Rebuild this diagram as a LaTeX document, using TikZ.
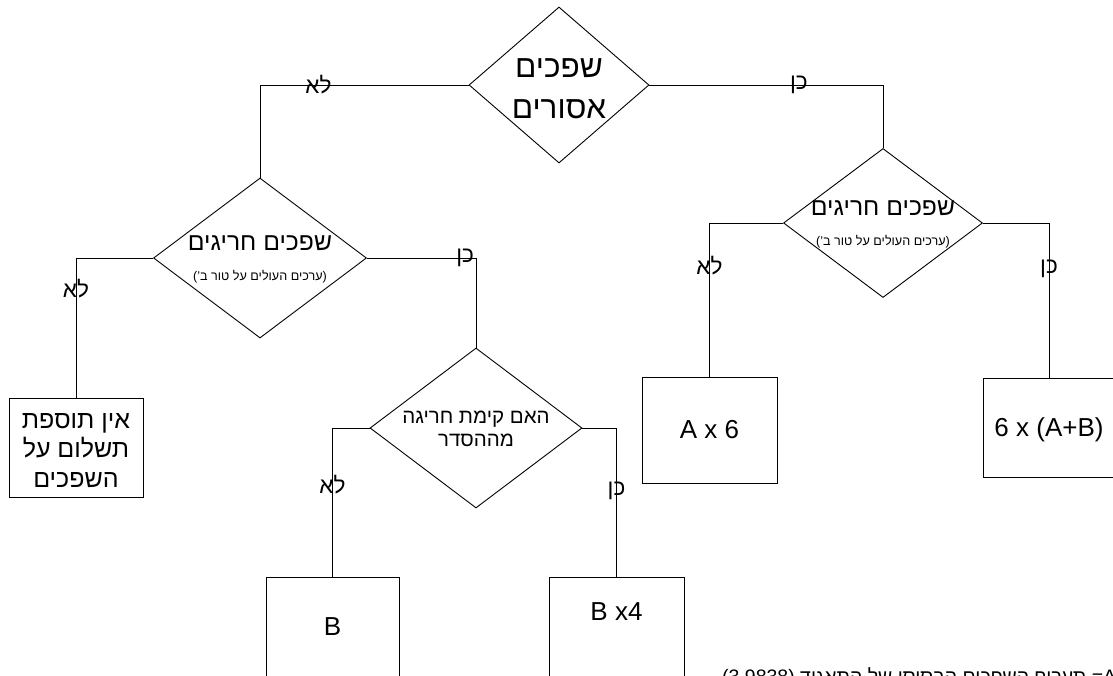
\documentclass[tikz,border=0pt]{standalone}
\usepackage{fontspec}
\setmainfont{Liberation Sans}[Script=Hebrew]
\usetikzlibrary{shapes.geometric}
\TeXXeTstate=1
\newcommand{\rtl}[1]{\beginR #1\endR}

\tikzset{
  decision/.style={diamond, draw, line width=0.9pt, inner sep=0pt},
  result/.style={rectangle, draw, line width=0.9pt, inner sep=0pt,
    font=\fontsize{26}{30}\selectfont},
  link/.style={draw, line width=0.9pt},
  answer/.style={font=\fontsize{22.5}{24}\selectfont, inner sep=0pt},
  title/.style={font=\fontsize{24.7}{28}\selectfont, inner sep=0pt},
  subtitle/.style={font=\fontsize{12.6}{15}\selectfont, inner sep=0pt},
}

\begin{document}
\begin{tikzpicture}[x=1pt,y=-1pt]
  \useasboundingbox (0,0) rectangle (1113,675);

  % decisions
  \node[decision, minimum width=180pt, minimum height=156pt] (forbid) at (559,85) {};
  \node[decision, minimum width=213pt, minimum height=160pt] (exL) at (260,258) {};
  \node[decision, minimum width=199pt, minimum height=149pt] (exR) at (883,223) {};
  \node[decision, minimum width=212pt, minimum height=160pt] (order) at (476,428) {};

  \node[font=\fontsize{31.5}{41}\selectfont, align=center, inner sep=0pt] (forbidtxt)
    at ([yshift=-4pt]forbid.center) {\rtl{שפכים}\\\rtl{אסורים}};
  \node[title] (exLtxt) at ([yshift=15pt]exL.center) {\rtl{שפכים חריגים}};
  \node[subtitle] (exLsub) at ([yshift=-19pt]exL.center) {\rtl{(ערכים העולים על טור ב')}};
  \node[title] (exRtxt) at ([yshift=15pt]exR.center) {\rtl{שפכים חריגים}};
  \node[subtitle] (exRsub) at ([yshift=-19pt]exR.center) {\rtl{(ערכים העולים על טור ב')}};
  \node[font=\fontsize{20.5}{23}\selectfont, align=center, inner sep=0pt] (ordertxt)
    at ([yshift=-1pt]order.center) {\rtl{האם קימת חריגה}\\\rtl{מההסדר}};

  % results
  \node[result, minimum width=134pt, minimum height=99pt] (noadd) at (76,447.5) {};
  \node[align=center, font=\fontsize{25}{29.5}\selectfont, inner sep=0pt] (noaddtxt)
    at ([yshift=-3pt]noadd.center) {\rtl{אין תוספת}\\\rtl{תשלום על}\\\rtl{השפכים}};
  \node[result, minimum width=135pt, minimum height=106pt] (ax6) at (709.5,430) {A x 6};
  \node[result, minimum width=132pt, minimum height=99pt] (ab6) at (1049,427.5) {};
  \node[font=\fontsize{26}{30}\selectfont, inner sep=0pt] (ab6txt)
    at ([yshift=-2pt]ab6.center) {6 x (A+B)};
  \node[result, minimum width=133pt, minimum height=100pt] (b) at (332.5,627) {B};
  \node[result, minimum width=135pt, minimum height=100pt] (bx4) at (616.5,627) {};
  \node[font=\fontsize{26}{30}\selectfont, inner sep=0pt] (bx4txt)
    at ([yshift=15pt]bx4.center) {B x4};

  % connectors
  \draw[link] (forbid.west) -| node[answer, pos=0.36] (no1) {\rtl{לא}} (exL.north);
  \draw[link] (forbid.east) -| node[answer, pos=0.32] (yes1) {\rtl{כן}} (exR.north);
  \draw[link] (exL.west) -| node[answer, pos=0.61] (no2) {\rtl{לא}} (noadd.north);
  \draw[link] (exL.east) -| node[answer, pos=0.45] (yes2) {\rtl{כן}} (order.north);
  \draw[link] (order.west) -| node[answer, pos=0.69] (no3) {\rtl{לא}} (b.north);
  \draw[link] (order.east) -| node[answer, pos=0.71] (yes3) {\rtl{כן}} (bx4.north);
  \draw[link] (exR.west) -| node[answer, pos=0.64] (no4) {\rtl{לא}} (ax6.north);
  \draw[link] (exR.east) -| node[answer, pos=0.65] (yes4) {\rtl{כן}} (ab6.north);

  % note, cut by the page edge
  \node[anchor=base west, font=\fontsize{19.5}{24}\selectfont, inner sep=0pt] (note)
    at (722,683) {\rtl{A\kern0pt= תעריף השפכים הבסיסי של התאגיד (3.9838)}};
\end{tikzpicture}
\end{document}
